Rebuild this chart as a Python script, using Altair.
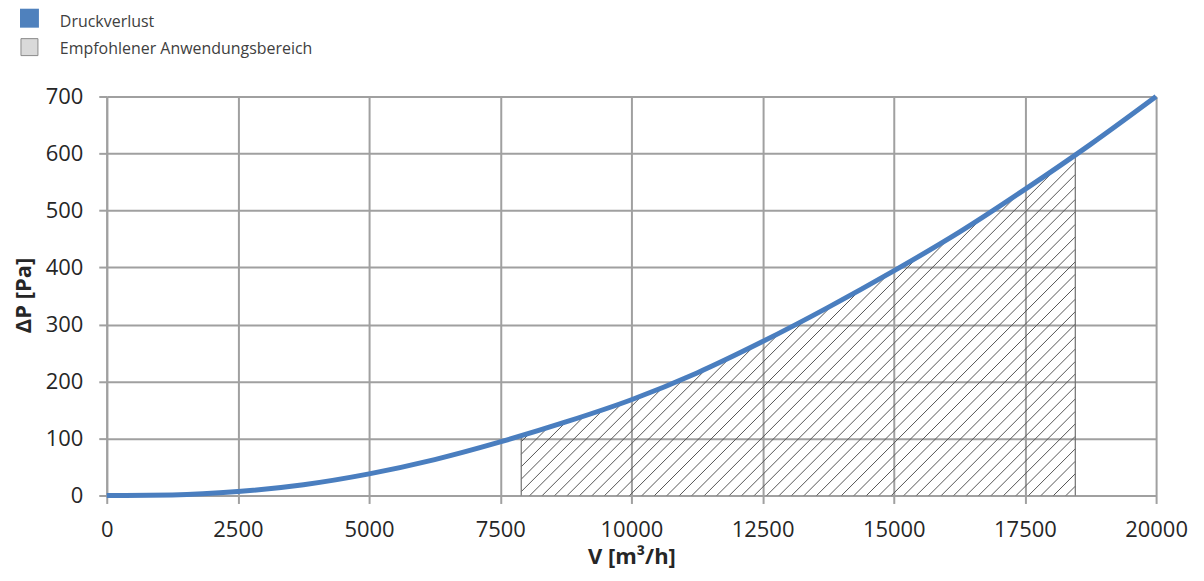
import numpy as np
import pandas as pd
import altair as alt

# ---- data ----
flow = [0, 1250, 2500, 3750, 5000, 6250, 7500, 8750, 10000, 11250,
        12500, 13750, 15000, 16250, 17500, 18750, 20000]
pressure = [0, 1, 7, 19, 38, 63, 94, 129, 168, 215,
            270, 330, 394, 462, 537, 616, 700]
range_low = 7900      # recommended range start [m³/h]
range_high = 18460    # recommended range end [m³/h]
x_ticks = [0, 2500, 5000, 7500, 10000, 12500, 15000, 17500, 20000]
y_ticks = [0, 100, 200, 300, 400, 500, 600, 700]
legend_labels = ["Druckverlust", "Empfohlener Anwendungsbereich"]

# ---- layout / style ----
W, H = 1052, 400
XMAX, YMAX = 20000, 700
BLUE = "#4a7ebf"
GRID = "#a0a0a0"
TXT = "#262626"
FONT = "Open Sans"

curve_df = pd.DataFrame({"V": flow, "P": pressure})


def curve(v):
    return float(np.interp(v, flow, pressure))


# hatch lines at 45 degrees in pixel space, clipped to the region under the curve
px_per_x = W / XMAX
px_per_y = H / YMAX
slope = px_per_x / px_per_y          # Pa per m³/h for 45°
step = 12.5 / px_per_x               # ~12.5 px horizontal spacing

rows = []
c = range_low - curve(range_low) / slope + step * 0.5
while c < range_high:
    if c >= range_low:
        v0, p0 = c, 0.0
    else:
        v0, p0 = range_low, slope * (range_low - c)
    if slope * (range_high - c) <= curve(range_high):
        v1, p1 = range_high, slope * (range_high - c)
    else:
        a, b = v0, range_high
        for _ in range(60):
            m = 0.5 * (a + b)
            if slope * (m - c) - curve(m) < 0:
                a = m
            else:
                b = m
        v1 = 0.5 * (a + b)
        p1 = slope * (v1 - c)
    rows.append({"V": v0, "P": p0, "V2": v1, "P2": p1})
    c += step
hatch_df = pd.DataFrame(rows)

edges_df = pd.DataFrame({
    "V": [range_low, range_high],
    "P": [0, 0],
    "V2": [range_low, range_high],
    "P2": [curve(range_low), curve(range_high)],
})

common_axis = dict(
    grid=True, gridColor=GRID, gridWidth=2, gridOpacity=1,
    domainColor=GRID, domainWidth=2, tickColor=GRID, tickWidth=2, tickSize=8,
    labelFont=FONT, labelFontSize=22, labelColor=TXT, labelPadding=16,
    labelFlush=False, labelOverlap=False,
    titleFont=FONT, titleFontSize=22, titleFontWeight="bold", titleColor=TXT,
)

x_enc = alt.X("V:Q", scale=alt.Scale(domain=[0, XMAX], nice=False, zero=False),
              axis=alt.Axis(values=x_ticks, format="d", title="V [m³/h]",
                            titleY=68, titleBaseline="alphabetic", **common_axis))
y_enc = alt.Y("P:Q", scale=alt.Scale(domain=[0, YMAX], nice=False),
              axis=alt.Axis(values=y_ticks, format="d", title="ΔP [Pa]",
                            titleX=-76, titleY=199, titleAngle=-90,
                            titleBaseline="alphabetic", **common_axis))

hatch = alt.Chart(hatch_df).mark_rule(color="#555555", strokeWidth=1).encode(
    x=x_enc, y=y_enc, x2="V2:Q", y2="P2:Q")

edges = alt.Chart(edges_df).mark_rule(color="#707070", strokeWidth=1.2).encode(
    x=x_enc, y=y_enc, x2="V2:Q", y2="P2:Q")

line = alt.Chart(curve_df).mark_line(color=BLUE, strokeWidth=5,
                                     interpolate="monotone").encode(x=x_enc, y=y_enc)

leg_df = pd.DataFrame({"label": [legend_labels[0]]})
leg_df2 = pd.DataFrame({"label": [legend_labels[1]]})

sq1 = alt.Chart(leg_df).mark_rect(color="#4f81bd").encode(
    x=alt.value(-87), x2=alt.value(-68), y=alt.value(-88), y2=alt.value(-69))
sq2 = alt.Chart(leg_df2).mark_rect(fill="#d9d9d9", stroke="#8a8a8a", strokeWidth=1).encode(
    x=alt.value(-86), x2=alt.value(-69), y=alt.value(-58), y2=alt.value(-41))
t1 = alt.Chart(leg_df).mark_text(align="left", baseline="alphabetic", font=FONT,
                                 fontSize=16, color="#404040").encode(
    x=alt.value(-47), y=alt.value(-70), text="label:N")
t2 = alt.Chart(leg_df2).mark_text(align="left", baseline="alphabetic", font=FONT,
                                  fontSize=16, color="#404040").encode(
    x=alt.value(-47), y=alt.value(-43), text="label:N")

chart = alt.layer(hatch, edges, line, sq1, sq2, t1, t2).properties(
    width=W, height=H,
    autosize=alt.AutoSizeParams(type="none"),
    padding={"left": 99, "top": 88, "right": 40, "bottom": 80},
).configure_view(stroke=None).configure(background="white")

chart.save("out.html", embed_options={"renderer": "svg", "actions": False})
